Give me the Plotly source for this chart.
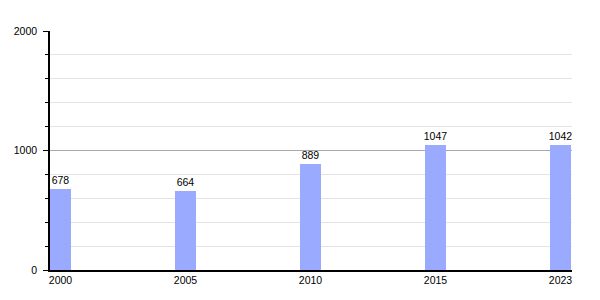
import plotly.graph_objects as go

years = ["2000", "2005", "2010", "2015", "2023"]
population = [678, 664, 889, 1047, 1042]

positions = list(range(len(years)))

fig = go.Figure()
fig.add_trace(go.Bar(
    x=positions,
    y=population,
    width=0.168,
    marker=dict(color="#99AAFF", line=dict(width=0)),
    text=[str(v) for v in population],
    textposition="outside",
    constraintext="none",
    textfont=dict(family="Liberation Sans, Arial, sans-serif", size=10.5, color="#000000"),
    cliponaxis=False,
    hoverinfo="skip",
))

fig.update_layout(
    width=600, height=300,
    margin=dict(l=50, r=28, t=31, b=30),
    paper_bgcolor="white",
    plot_bgcolor="white",
    showlegend=False,
    font=dict(family="Liberation Sans, Arial, sans-serif", size=10.5, color="#000000"),
    bargap=0,
)
fig.update_xaxes(
    range=[-0.084, 4.092],
    tickmode="array",
    tickvals=positions,
    ticktext=years,
    showgrid=False,
    showline=True,
    linecolor="#000000",
    linewidth=1.5,
    ticks="",
    zeroline=False,
    fixedrange=True,
)
fig.update_yaxes(
    range=[0, 2000],
    tickmode="linear",
    tick0=0,
    dtick=1000,
    showgrid=True,
    gridcolor="#a8a8a8",
    gridwidth=1,
    showline=True,
    linecolor="#000000",
    linewidth=1.5,
    ticks="outside",
    ticklen=5,
    tickcolor="#000000",
    ticklabelstandoff=4,
    zeroline=False,
    minor=dict(dtick=200, showgrid=True, gridcolor="#e4e4e4", gridwidth=1,
               ticks="outside", ticklen=3, tickcolor="#000000"),
    fixedrange=True,
)

fig.write_html("out.html")
